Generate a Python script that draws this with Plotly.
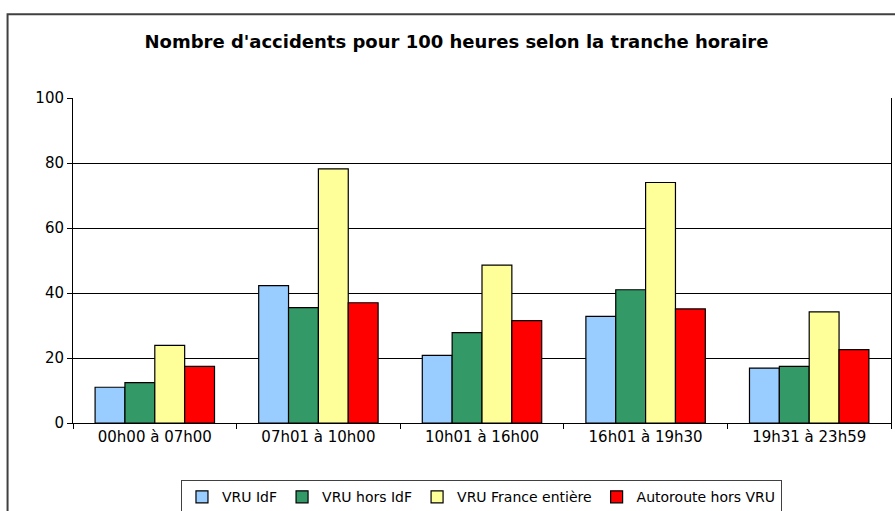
import plotly.graph_objects as go

categories = ["00h00 à 07h00", "07h01 à 10h00", "10h01 à 16h00", "16h01 à 19h30", "19h31 à 23h59"]
series_names = ["VRU IdF", "VRU hors IdF", "VRU France entière", "Autoroute hors VRU"]
vru_idf = [11.0, 42.3, 20.8, 32.8, 16.9]
vru_hors_idf = [12.4, 35.5, 27.8, 41.0, 17.4]
vru_france = [23.9, 78.2, 48.6, 74.0, 34.2]
autoroute = [17.4, 37.0, 31.5, 35.1, 22.6]

colors = ["#99CCFF", "#339966", "#FFFF99", "#FF0000"]
values = [vru_idf, vru_hors_idf, vru_france, autoroute]

FONT = "DejaVu Sans, sans-serif"

fig = go.Figure()
for name, vals, col in zip(series_names, values, colors):
    fig.add_bar(
        x=categories,
        y=vals,
        name=name,
        marker=dict(color=col, line=dict(color="black", width=1.2)),
    )

fig.update_layout(
    width=895,
    height=511,
    paper_bgcolor="white",
    plot_bgcolor="white",
    font=dict(family=FONT, size=15, color="black"),
    margin=dict(l=73, r=4, t=98, b=88, autoexpand=False),
    barmode="group",
    bargap=0.27,
    bargroupgap=0,
    title=dict(
        text="<b>Nombre d'accidents pour 100 heures selon la tranche horaire</b>",
        x=0.51,
        xanchor="center",
        y=0.918,
        yanchor="middle",
        font=dict(family=FONT, size=18, color="black"),
    ),
    legend=dict(
        orientation="h",
        x=0.132,
        y=-0.176,
        xanchor="left",
        yanchor="top",
        bordercolor="#404040",
        borderwidth=1,
        font=dict(family=FONT, size=14),
        tracegroupgap=0,
        itemwidth=30,
    ),
    showlegend=True,
)

fig.update_yaxes(
    range=[0, 100],
    dtick=20,
    showgrid=True,
    gridcolor="black",
    gridwidth=1,
    showline=True,
    linecolor="black",
    linewidth=1,
    mirror=True,
    ticks="outside",
    ticklen=5,
    tickcolor="black",
    zeroline=False,
    automargin=False,
)
fig.update_xaxes(
    showline=True,
    linecolor="black",
    linewidth=1,
    ticks="outside",
    tickson="boundaries",
    ticklen=5,
    tickcolor="black",
    showgrid=False,
    automargin=False,
)

# outer chart frame
fig.add_shape(
    type="rect",
    xref="paper",
    yref="paper",
    x0=-0.080,
    x1=1.1,
    y0=-0.4,
    y1=1.258,
    line=dict(color="#404040", width=2),
    fillcolor="rgba(0,0,0,0)",
    layer="below",
)

# page sits at the top-left corner, no body margin
fig.write_html(
    "out.html",
    config={"displayModeBar": False},
    post_script="document.body.style.margin='0';document.body.style.overflow='hidden';",
)
